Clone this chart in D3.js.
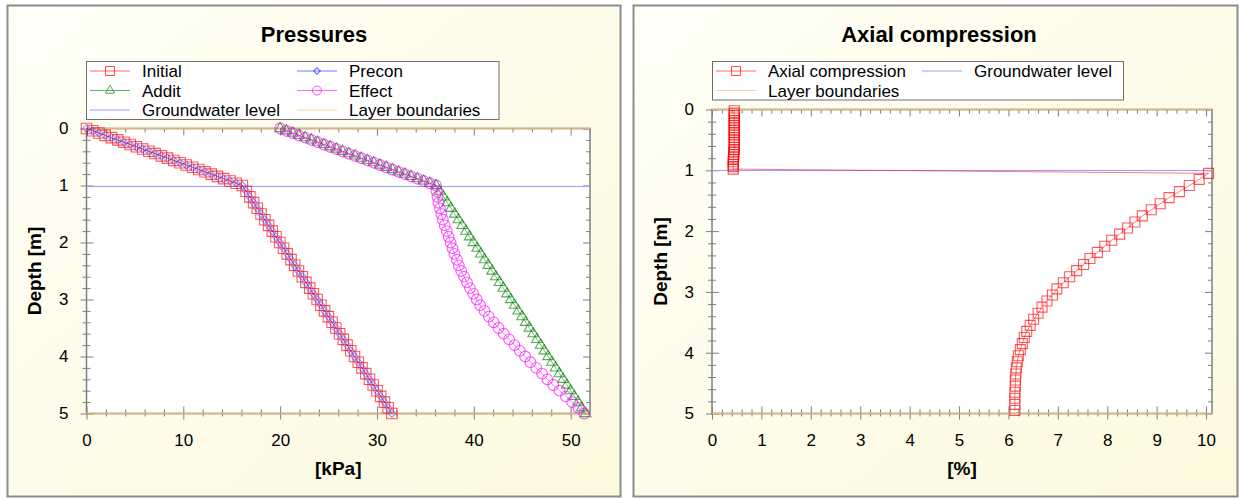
<!DOCTYPE html>
<html>
<head>
<meta charset="utf-8">
<script src="https://cdn.jsdelivr.net/npm/d3@7"></script>
<style>
  body { margin: 0; background: #fff; }
  text { font-family: "Liberation Sans", Arial, sans-serif; fill: #000; }
</style>
</head>
<body>
<div id="chart"></div>
<script>
// ---- pressures chart ----
var depthL = [0,0.04,0.08,0.12,0.16,0.2,0.24,0.28,0.32,0.36,0.4,0.44,0.48,0.52,0.56,0.6,0.64,0.68,0.72,0.76,0.8,0.84,0.88,0.92,0.96,1,
  1.1,1.2,1.3,1.4,1.5,1.6,1.7,1.8,1.9,2,2.1,2.2,2.3,2.4,2.5,2.6,2.7,2.8,2.9,3,3.1,3.2,3.3,3.4,3.5,3.6,3.7,3.8,3.9,4,
  4.1,4.2,4.3,4.4,4.5,4.6,4.7,4.8,4.9,5];
var initial = [0,0.64,1.29,1.93,2.58,3.22,3.86,4.51,5.15,5.8,6.44,7.08,7.73,8.37,9.02,9.66,10.3,10.95,11.59,12.24,12.88,13.52,14.17,14.81,15.46,16.1,
  16.49,16.87,17.26,17.64,18.03,18.42,18.8,19.19,19.57,19.96,20.35,20.73,21.12,21.5,21.89,22.28,22.66,23.05,23.43,23.82,24.21,24.59,24.98,25.36,
  25.75,26.14,26.52,26.91,27.29,27.68,28.07,28.45,28.84,29.22,29.61,30,30.38,30.77,31.15,31.54];
var precon = [0,0.64,1.29,1.93,2.58,3.22,3.86,4.51,5.15,5.8,6.44,7.08,7.73,8.37,9.02,9.66,10.3,10.95,11.59,12.24,12.88,13.52,14.17,14.81,15.46,16.1,
  16.49,16.87,17.26,17.64,18.03,18.42,18.8,19.19,19.57,19.96,20.35,20.73,21.12,21.5,21.89,22.28,22.66,23.05,23.43,23.82,24.21,24.59,24.98,25.36,
  25.75,26.14,26.52,26.91,27.29,27.68,28.07,28.45,28.84,29.22,29.61,30,30.38,30.77,31.15,31.54];
var addit = [20,20.64,21.29,21.93,22.58,23.22,23.86,24.51,25.15,25.8,26.44,27.08,27.73,28.37,29.02,29.66,30.3,30.95,31.59,32.24,32.88,33.52,34.17,34.81,35.46,36.1,
  36.49,36.87,37.26,37.64,38.03,38.42,38.8,39.19,39.57,39.96,40.35,40.73,41.12,41.5,41.89,42.28,42.66,43.05,43.43,43.82,44.21,44.59,44.98,45.36,
  45.75,46.14,46.52,46.91,47.29,47.68,48.07,48.45,48.84,49.22,49.61,50,50.38,50.77,51.15,51.54];
var effect = [20,20.64,21.29,21.93,22.58,23.22,23.86,24.51,25.15,25.8,26.44,27.08,27.73,28.37,29.02,29.66,30.3,30.95,31.59,32.24,32.88,33.52,34.17,34.81,35.46,36.1,
  36.15,36.25,36.35,36.5,36.65,36.8,37,37.2,37.4,37.6,37.8,38,38.25,38.45,38.7,39,39.3,39.6,39.95,40.3,40.65,41.1,41.55,42.05,
  42.55,43.1,43.65,44.2,44.75,45.3,45.85,46.45,47.05,47.6,48.2,48.85,49.5,50.15,50.8,51.4];

// ---- axial compression chart ----
var depthR = [0.02,0.06,0.1,0.14,0.18,0.22,0.26,0.3,0.34,0.38,0.42,0.46,0.5,0.54,0.58,0.62,0.66,0.7,0.74,0.78,0.82,0.86,0.9,0.94,0.98,
  1.05,1.15,1.25,1.35,1.45,1.55,1.65,1.75,1.85,1.95,2.05,2.15,2.25,2.35,2.45,2.55,2.65,2.75,2.85,2.95,
  3.05,3.15,3.25,3.35,3.45,3.55,3.65,3.75,3.85,3.95,4.05,4.15,4.25,4.35,4.45,4.55,4.65,4.75,4.85,4.95];
var axial = [0.45,0.45,0.45,0.45,0.45,0.45,0.45,0.45,0.45,0.45,0.45,0.45,0.45,0.45,0.45,0.45,0.45,0.44,0.44,0.44,0.43,0.43,0.43,0.43,0.43,
  10.05,9.86,9.66,9.46,9.25,9.07,8.89,8.71,8.56,8.41,8.25,8.09,7.95,7.8,7.65,7.52,7.38,7.24,7.11,6.98,
  6.89,6.78,6.68,6.6,6.51,6.44,6.37,6.32,6.28,6.24,6.2,6.18,6.16,6.15,6.14,6.14,6.13,6.13,6.13,6.13];

var groundwater = 1;
var layerBounds = [0, 5];
var depthTicks = [0,1,2,3,4,5];
var kpaTicks = [0,10,20,30,40,50];
var pctTicks = [0,1,2,3,4,5,6,7,8,9,10];

var axisColor = "#7f7f7f", gwColor = "#9c9cff", layerColor = "#dcb57c";

var svg = d3.select("#chart").append("svg").attr("width",1239).attr("height",498);
var grad = svg.append("defs").append("linearGradient").attr("id","bg")
    .attr("x1","0").attr("y1","0").attr("x2","1").attr("y2","1");
grad.append("stop").attr("offset","0").attr("stop-color","#fffff6");
grad.append("stop").attr("offset","1").attr("stop-color","#fcf9de");

function marker(type, size){
    return d3.symbol().type(type).size(size)();
}

function drawAxes(g, x, y, xMajor, xMinor, yMinor){
    var x0 = x.range()[0], x1 = x.range()[1], y0 = y.range()[0], y1 = y.range()[1];
    function style(sel){ sel.select(".domain").remove(); sel.selectAll("line").attr("stroke",axisColor); }
    // bottom
    var b = g.append("g").attr("transform","translate(0,"+y1+")");
    b.append("g").call(d3.axisBottom(x).tickValues(xMajor).tickSize(6).tickPadding(14).tickFormat(d3.format("d"))).call(style)
        .selectAll("text").attr("font-size",17).attr("font-family","Liberation Sans, Arial").attr("fill","#000");
    b.append("g").call(d3.axisTop(x).tickValues(xMajor).tickSize(7).tickFormat("")).call(style);
    b.append("g").call(d3.axisBottom(x).tickValues(xMinor).tickSize(3).tickFormat("")).call(style);
    b.append("g").call(d3.axisTop(x).tickValues(xMinor).tickSize(4).tickFormat("")).call(style);
    // top (inside only)
    var t = g.append("g").attr("transform","translate(0,"+y0+")");
    t.append("g").call(d3.axisBottom(x).tickValues(xMajor).tickSize(7).tickFormat("")).call(style);
    t.append("g").call(d3.axisBottom(x).tickValues(xMinor).tickSize(4).tickFormat("")).call(style);
    // left
    var l = g.append("g").attr("transform","translate("+x0+",0)");
    l.append("g").call(d3.axisLeft(y).tickValues(depthTicks).tickSize(6).tickPadding(12).tickFormat(d3.format("d"))).call(style)
        .selectAll("text").attr("font-size",17).attr("font-family","Liberation Sans, Arial").attr("fill","#000");
    l.append("g").call(d3.axisRight(y).tickValues(depthTicks).tickSize(7).tickFormat("")).call(style);
    l.append("g").call(d3.axisLeft(y).tickValues(yMinor).tickSize(4).tickFormat("")).call(style);
    l.append("g").call(d3.axisRight(y).tickValues(yMinor).tickSize(4).tickFormat("")).call(style);
    // right (inside only)
    var r = g.append("g").attr("transform","translate("+x1+",0)");
    r.append("g").call(d3.axisLeft(y).tickValues(depthTicks).tickSize(7).tickFormat("")).call(style);
    r.append("g").call(d3.axisLeft(y).tickValues(yMinor).tickSize(4).tickFormat("")).call(style);
    // frame
    g.append("rect").attr("x",x0).attr("y",y0).attr("width",x1-x0).attr("height",y1-y0)
        .attr("fill","none").attr("stroke",axisColor).attr("stroke-width",1.5);
    // layer boundaries
    g.selectAll(".layer").data(layerBounds).enter().append("line")
        .attr("x1",x0).attr("x2",x1).attr("y1",function(d){return y(d);}).attr("y2",function(d){return y(d);})
        .attr("stroke",layerColor).attr("stroke-width",1.5);
}

function drawSeries(g, x, y, vals, depths, s){
    var pts = d3.zip(vals, depths);
    var line = d3.line().x(function(d){return x(d[0]);}).y(function(d){return y(d[1]);});
    g.append("path").attr("d",line(pts)).attr("fill","none").attr("stroke",s.color)
        .attr("stroke-opacity",s.op*0.8).attr("stroke-width",1);
    g.selectAll(null).data(pts).enter().append("path")
        .attr("d",marker(s.type, s.size))
        .attr("transform",function(d){return "translate("+x(d[0])+","+y(d[1])+")"+(s.rot?" rotate(45)":"");})
        .attr("fill","none").attr("stroke",s.color).attr("stroke-opacity",s.op).attr("stroke-width",1.1);
}

function drawLegend(box, items){
    var lg = svg.append("g");
    lg.append("rect").attr("x",box[0]).attr("y",box[1]).attr("width",box[2]).attr("height",box[3])
        .attr("fill","#fff").attr("stroke","#6f6f6f").attr("stroke-width",1);
    items.forEach(function(it){
        lg.append("line").attr("x1",it.x).attr("x2",it.x+40).attr("y1",it.y).attr("y2",it.y)
            .attr("stroke",it.color).attr("stroke-opacity",it.type?0.6:1).attr("stroke-width",1);
        if(it.type){
            lg.append("path").attr("d",marker(it.type,it.size))
                .attr("transform","translate("+(it.x+20)+","+it.y+")"+(it.rot?" rotate(45)":""))
                .attr("fill","none").attr("stroke",it.color).attr("stroke-opacity",0.7);
        }
        lg.append("text").attr("x",it.x+52).attr("y",it.y+6).attr("font-size",17).text(it.label);
    });
}

function drawPanel(p){
    svg.append("rect").attr("x",p.bx).attr("y",5.5).attr("width",p.bw).attr("height",491)
        .attr("fill","url(#bg)").attr("stroke","#8c8c8c").attr("stroke-width",2);
    svg.append("text").attr("x",p.tx).attr("y",42).attr("text-anchor","middle")
        .attr("font-size",22).attr("font-weight","bold").text(p.title);
    var x = p.x, y = p.y, g = svg.append("g");
    g.append("rect").attr("x",x.range()[0]).attr("y",y.range()[0])
        .attr("width",x.range()[1]-x.range()[0]).attr("height",y.range()[1]-y.range()[0]).attr("fill","#fff");
    drawAxes(g, x, y, p.xMajor, p.xMinor, p.yMinor);
    g.append("line").attr("x1",x.range()[0]).attr("x2",x.range()[1])
        .attr("y1",Math.round(y(groundwater))+0.5).attr("y2",Math.round(y(groundwater))+0.5)
        .attr("stroke",gwColor).attr("stroke-width",1);
    p.series.forEach(function(s){ drawSeries(g, x, y, s.vals, s.depths, s); });
    var xm = (x.range()[0]+x.range()[1])/2, ym = (y.range()[0]+y.range()[1])/2;
    svg.append("text").attr("x",xm).attr("y",475).attr("text-anchor","middle")
        .attr("font-size",19).attr("font-weight","bold").text(p.xLabel);
    svg.append("text").attr("transform","translate("+p.yLabelX+","+ym+") rotate(-90)").attr("text-anchor","middle")
        .attr("font-size",19).attr("font-weight","bold").text("Depth [m]");
}

var minorY = d3.range(0.2, 5, 0.2).filter(function(v){return Math.abs(v-Math.round(v))>0.01;});

// left: Pressures
var xL = d3.scaleLinear().domain([0,52]).range([86.5,590]);
var yL = d3.scaleLinear().domain([0,5]).range([128.5,413.5]);
drawPanel({
    bx:7.5, bw:613, tx:314, title:"Pressures", x:xL, y:yL, xLabel:"[kPa]", yLabelX:41,
    xMajor:kpaTicks, xMinor:d3.range(2,51,2).filter(function(v){return v%10!==0;}), yMinor:minorY,
    series:[
        {vals:initial, depths:depthL, color:"#ff0000", type:d3.symbolSquare, size:110, op:0.65},
        {vals:precon, depths:depthL, color:"#2020ff", type:d3.symbolSquare, size:30, rot:true, op:0.45},
        {vals:addit, depths:depthL, color:"#008000", type:d3.symbolTriangle, size:50, op:0.65},
        {vals:effect, depths:depthL, color:"#ff00ff", type:d3.symbolCircle, size:90, op:0.65}
    ]
});
drawLegend([86.5,61.5,412.5,58], [
    {x:90, y:71, color:"#ff0000", type:d3.symbolSquare, size:81, label:"Initial"},
    {x:297, y:71, color:"#2020ff", type:d3.symbolSquare, size:22, rot:true, label:"Precon"},
    {x:90, y:90.5, color:"#008000", type:d3.symbolTriangle, size:36, label:"Addit"},
    {x:297, y:90.5, color:"#ff00ff", type:d3.symbolCircle, size:62, label:"Effect"},
    {x:90, y:110, color:gwColor, label:"Groundwater level"},
    {x:297, y:110, color:"#f6d3a0", label:"Layer boundaries"}
]);

// right: Axial compression
var xR = d3.scaleLinear().domain([0,10.12]).range([712,1212]);
var yR = d3.scaleLinear().domain([0,5]).range([109.5,413.5]);
drawPanel({
    bx:633.5, bw:604, tx:939, title:"Axial compression", x:xR, y:yR, xLabel:"[%]", yLabelX:667,
    xMajor:pctTicks, xMinor:d3.range(0.2,10.1,0.2).filter(function(v){return Math.abs(v-Math.round(v))>0.01;}), yMinor:minorY,
    series:[
        {vals:axial, depths:depthR, color:"#ff0000", type:d3.symbolSquare, size:100, op:0.65}
    ]
});
drawLegend([712.5,61.5,411,38.5], [
    {x:716, y:71, color:"#ff0000", type:d3.symbolSquare, size:81, label:"Axial compression"},
    {x:922, y:71, color:gwColor, label:"Groundwater level"},
    {x:716, y:90.5, color:"#f6d3a0", label:"Layer boundaries"}
]);
</script>
</body>
</html>
